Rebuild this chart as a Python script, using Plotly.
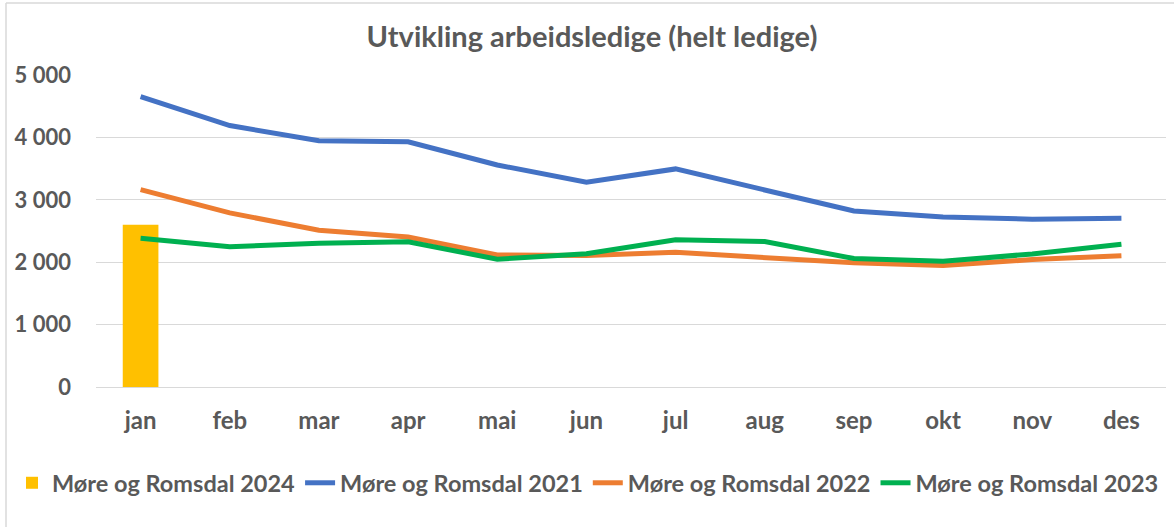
import plotly.graph_objects as go

months = ["jan", "feb", "mar", "apr", "mai", "jun", "jul", "aug", "sep", "okt", "nov", "des"]
mr2024 = [2600]
mr2021 = [4655, 4190, 3945, 3930, 3558, 3282, 3495, 3160, 2820, 2725, 2690, 2705]
mr2022 = [3162, 2790, 2513, 2405, 2116, 2106, 2158, 2084, 1990, 1948, 2042, 2105]
mr2023 = [2382, 2249, 2302, 2328, 2048, 2135, 2358, 2332, 2058, 2016, 2132, 2289]
y_ticks = [0, 1000, 2000, 3000, 4000, 5000]

TXT = "#595959"
FONT = "Lato"

fig = go.Figure()
fig.add_trace(go.Bar(x=months[:len(mr2024)], y=mr2024, name="Møre og Romsdal 2024",
                     marker=dict(color="#FFC000", line=dict(width=0)), width=0.4))
fig.add_trace(go.Scatter(x=months, y=mr2021, name="Møre og Romsdal 2021", mode="lines",
                         line=dict(color="#4472C4", width=5)))
fig.add_trace(go.Scatter(x=months, y=mr2022, name="Møre og Romsdal 2022", mode="lines",
                         line=dict(color="#ED7D31", width=5)))
fig.add_trace(go.Scatter(x=months, y=mr2023, name="Møre og Romsdal 2023", mode="lines",
                         line=dict(color="#00B050", width=5)))

W, H = 1174, 527
L, R, T, B = 96, 8, 75, 140
pw, ph = W - L - R, H - T - B

def px(x):
    return (x - L) / pw

def py(y):
    return (H - B - y) / ph

fig.update_layout(
    width=W, height=H,
    margin=dict(l=L, r=R, t=T, b=B, pad=0, autoexpand=False),
    paper_bgcolor="white", plot_bgcolor="white",
    separators=", ",
    font=dict(family=FONT, color=TXT, size=20),
    title=dict(text="<b>Utvikling arbeidsledige (helt ledige)</b>",
               font=dict(family=FONT, size=29, color=TXT),
               x=592 / W, xref="container", xanchor="center",
               y=1 - 37 / H, yref="container", yanchor="middle"),
    showlegend=True,
    legend=dict(orientation="h", x=px(12), y=py(483), xanchor="left", yanchor="middle",
                font=dict(family=FONT, size=23.5, color=TXT, weight="bold"), itemwidth=30,
                traceorder="normal", bgcolor="rgba(0,0,0,0)"),
    xaxis=dict(type="category", range=[-0.5, len(months) - 0.5],
               showgrid=False, showline=False, zeroline=False,
               automargin=False,
               ticks="", tickfont=dict(family=FONT, size=24, color=TXT, weight="bold"),
               ticklabelstandoff=17),
    yaxis=dict(range=[0, 5000], tickvals=y_ticks, tickformat=",d",
               automargin=False,
               showgrid=True, gridcolor="#D9D9D9", gridwidth=1,
               zeroline=True, zerolinecolor="#D9D9D9", zerolinewidth=1,
               showline=False, ticks="",
               tickfont=dict(family=FONT, size=22, color=TXT, weight="bold"),
               ticklabelstandoff=24),
    shapes=[
        dict(type="line", xref="paper", yref="paper", x0=px(6), x1=px(W), y0=py(3), y1=py(3),
             line=dict(color="#D9D9D9", width=1.5)),
        dict(type="line", xref="paper", yref="paper", x0=px(6), x1=px(6), y0=py(3), y1=py(H),
             line=dict(color="#D9D9D9", width=1.5)),
    ],
)

fig.write_html("out.html", config={"responsive": False, "displayModeBar": False},
               post_script="document.body.style.margin='0';document.body.style.overflow='hidden';")
